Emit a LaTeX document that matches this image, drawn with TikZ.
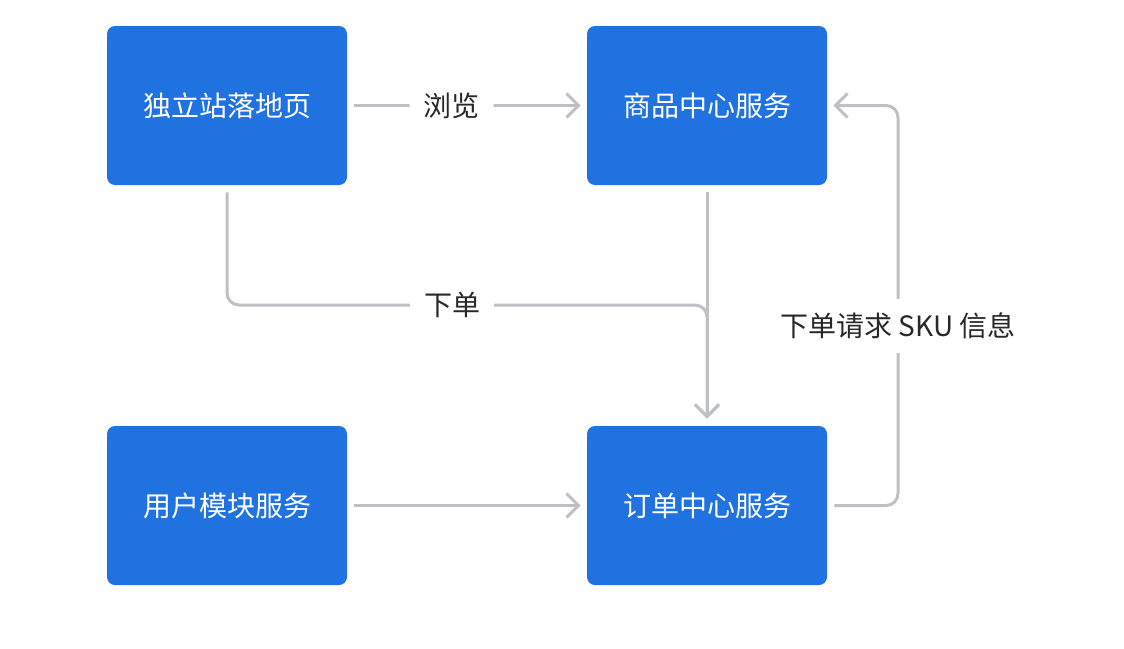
\documentclass[tikz,border=0pt]{standalone}
\usepackage{fontspec}
\newfontfamily\cjk{Noto Sans CJK SC}
\usetikzlibrary{arrows.meta, positioning}

\definecolor{boxblue}{RGB}{33,114,225}
\definecolor{linegray}{RGB}{190,192,197}
\definecolor{txtdark}{RGB}{40,40,40}

\tikzset{
	box/.style = {fill=boxblue, rounded corners=4pt, minimum width=120pt,
		minimum height=79.5pt, text=white, font=\cjk\fontsize{14}{16}\selectfont},
	flow/.style = {draw=linegray, line width=1.5pt, rounded corners=6pt,
		-{Straight Barb[length=6pt, width=12pt, line width=1.5pt]}},
	lbl/.style = {fill=white, text=txtdark, inner xsep=7pt, inner ysep=7pt,
		font=\cjk\fontsize{14}{16}\selectfont}
}

\begin{document}
\begin{tikzpicture}[x=0.5pt, y=-0.5pt]
\useasboundingbox (0, 0) rectangle (1124, 648);

\node[box] (landing) at (227, 105.5) {独立站落地页};
\node[box] (goods) at (707, 105.5) {商品中心服务};
\node[box] (user) at (227, 505.5) {用户模块服务};
\node[box] (order) at (707, 505.5) {订单中心服务};

\coordinate (turn) at (707, 305);
\coordinate (side) at (898, 305);

\draw[flow] ([xshift=3.5pt]landing.east) -- ([xshift=-3pt]goods.west)
	node[lbl, pos=0.43] (browse) {浏览};

\draw[flow] ([yshift=-3.5pt]goods.south) -- ([yshift=3.5pt]order.north);
\draw[flow] ([yshift=-3.5pt]landing.south) |- (turn) -- ([yshift=3.5pt]order.north);
\node[lbl] (place) at (452, 305) {下单};

\draw[flow] ([xshift=3.5pt]user.east) -- ([xshift=-3pt]order.west);

\draw[flow] ([xshift=3.5pt]order.east) -| (side) |- ([xshift=3pt]goods.east);
\node[lbl] (sku) at (898, 326) {下单请求 SKU 信息};
\end{tikzpicture}
\end{document}
